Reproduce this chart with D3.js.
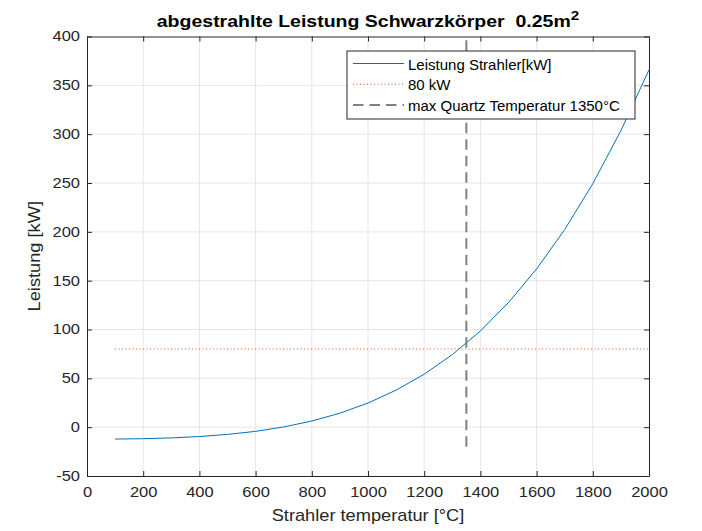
<!DOCTYPE html>
<html>
<head>
<meta charset="utf-8">
<script src="https://cdn.jsdelivr.net/npm/d3@7"></script>
<style>
  body { margin: 0; background: #fff; }
  svg { font-family: "Liberation Sans", Arial, sans-serif; }
</style>
</head>
<body>
<svg id="chart" width="702" height="531"></svg>
<script>
// radiator temperature [°C] and radiated power [kW]
var temps = [100, 200, 300, 400, 500, 600, 700, 800, 900, 1000,
             1100, 1200, 1300, 1400, 1500, 1600, 1700, 1800, 1900, 2000];
var power = [-12.2, -11.8, -11.0, -9.6, -7.4, -4.3, 0.2, 6.3, 14.3, 24.7,
             37.9, 54.2, 74.3, 98.5, 127.6, 162.0, 202.3, 249.3, 303.6, 365.9];
var limitPower = 80;           // horizontal reference line
var limitRange = [100, 2000];
var quartzTemp = 1350;         // vertical reference line
var quartzRange = [-20, 400];
var xTicks = [0, 200, 400, 600, 800, 1000, 1200, 1400, 1600, 1800, 2000];
var yTicks = [-50, 0, 50, 100, 150, 200, 250, 300, 350, 400];
var legendLabels = ["Leistung Strahler[kW]", "80 kW", "max Quartz Temperatur 1350°C"];

var margin = { top: 36.5, right: 53, bottom: 55, left: 87 };
var svg = d3.select("#chart");
var width = 702 - margin.left - margin.right;
var height = 531 - margin.top - margin.bottom;

// the reference font runs wider than Liberation Sans, so stretch text sideways
var tickStretch = 1.18, labelStretch = 1.14, titleStretch = 1.22, legendStretch = 1.05;

var chart = svg.append("g")
  .attr("transform", "translate(" + margin.left + "," + margin.top + ")");

var x = d3.scaleLinear().domain([0, 2000]).range([0, width]);
var y = d3.scaleLinear().domain([-50, 400]).range([height, 0]);

// grid
chart.append("g").selectAll("line").data(xTicks.slice(1, -1)).enter().append("line")
  .attr("x1", d => x(d)).attr("x2", d => x(d))
  .attr("y1", 0).attr("y2", height)
  .attr("stroke", "#e6e6e6").attr("stroke-width", 1);
chart.append("g").selectAll("line").data(yTicks.slice(1, -1)).enter().append("line")
  .attr("y1", d => y(d)).attr("y2", d => y(d))
  .attr("x1", 0).attr("x2", width)
  .attr("stroke", "#e6e6e6").attr("stroke-width", 1);

// data lines
chart.append("path")
  .datum(temps.map((t, i) => [t, power[i]]))
  .attr("fill", "none")
  .attr("stroke", "#0072BD")
  .attr("stroke-width", 1)
  .attr("d", d3.line().x(d => x(d[0])).y(d => y(d[1])));

chart.append("line")
  .attr("x1", x(limitRange[0])).attr("x2", x(limitRange[1]))
  .attr("y1", y(limitPower)).attr("y2", y(limitPower))
  .attr("stroke", "#D95319").attr("stroke-width", 1)
  .attr("stroke-dasharray", "1,2.5");

chart.append("line")
  .attr("x1", x(quartzTemp)).attr("x2", x(quartzTemp))
  .attr("y1", y(quartzRange[0])).attr("y2", y(quartzRange[1]))
  .attr("stroke", "#808080").attr("stroke-width", 2)
  .attr("stroke-dasharray", "10.5,6");

// axes (ticks inside, MATLAB style box)
var tickLen = 5;
var fmt = function (d) { return String(d); };
var xAxis = chart.append("g").attr("class", "axis")
  .attr("transform", "translate(0," + height + ")")
  .call(d3.axisBottom(x).tickValues(xTicks).tickFormat(fmt)
    .tickSizeInner(-tickLen).tickSizeOuter(0).tickPadding(11));
var yAxis = chart.append("g").attr("class", "axis")
  .call(d3.axisLeft(y).tickValues(yTicks).tickFormat(fmt)
    .tickSizeInner(-tickLen).tickSizeOuter(0).tickPadding(7 / tickStretch));
chart.append("g")
  .call(d3.axisTop(x).tickValues(xTicks).tickSizeInner(-tickLen).tickSizeOuter(0).tickFormat(""));
chart.append("g")
  .attr("transform", "translate(" + width + ",0)")
  .call(d3.axisRight(y).tickValues(yTicks).tickSizeInner(-tickLen).tickSizeOuter(0).tickFormat(""));

chart.selectAll(".domain").attr("stroke", "#262626");
chart.selectAll(".tick line").attr("stroke", "#262626");
chart.selectAll(".axis text")
  .style("font-size", "14px")
  .style("font-family", "Liberation Sans, Arial, sans-serif")
  .attr("fill", "#262626")
  .attr("transform", "scale(" + tickStretch + ",1)");

// axis labels
chart.append("text")
  .attr("transform", "translate(" + (width / 2) + "," + (height + 44.5) + ") scale(" + labelStretch + ",1)")
  .attr("text-anchor", "middle")
  .style("font-size", "16px").attr("fill", "#262626")
  .text("Strahler temperatur [°C]");

chart.append("text")
  .attr("transform", "rotate(-90) scale(" + labelStretch + ",1)")
  .attr("x", -height / 2 / labelStretch).attr("y", -47.5)
  .attr("text-anchor", "middle")
  .style("font-size", "16px").attr("fill", "#262626")
  .text("Leistung [kW]");

// title
var title = chart.append("text")
  .attr("transform", "translate(" + (width / 2) + ",-9.2) scale(" + titleStretch + ",1)")
  .attr("text-anchor", "middle")
  .style("font-size", "16px").style("font-weight", "bold").attr("fill", "#000")
  .text("abgestrahlte Leistung Schwarzkörper\u00a0\u00a00.25m");
title.append("tspan")
  .attr("dy", -7).style("font-size", "12.5px")
  .text("2");

// legend
var lg = chart.append("g").attr("transform", "translate(" + (347 - margin.left) + "," + (51 - margin.top) + ")");
lg.append("rect")
  .attr("width", 288).attr("height", 68)
  .attr("fill", "#fff").attr("stroke", "#262626").attr("stroke-width", 1);
var styles = [
  { stroke: "#0072BD", w: 1, dash: null },
  { stroke: "#D95319", w: 1, dash: "1,2.5" },
  { stroke: "#808080", w: 2, dash: "10.5,6" }
];
legendLabels.forEach(function (lab, i) {
  var cy = 12.5 + i * 20.8;
  lg.append("line")
    .attr("x1", 6).attr("x2", 57).attr("y1", cy).attr("y2", cy)
    .attr("stroke", styles[i].stroke).attr("stroke-width", styles[i].w)
    .attr("stroke-dasharray", styles[i].dash);
  lg.append("text")
    .attr("transform", "translate(61," + (cy + 6) + ") scale(" + legendStretch + ",1)")
    .style("font-size", "14.3px").attr("fill", "#000")
    .text(lab);
});
</script>
</body>
</html>
